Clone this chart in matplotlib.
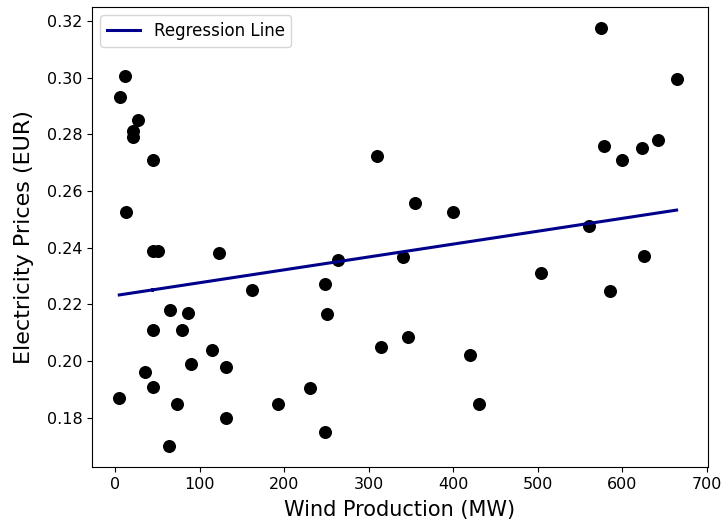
import matplotlib.pyplot as plt
import numpy as np

wind_mw = [4.7, 5.9, 11.8, 13, 21, 21, 27, 35, 45, 44, 45, 44, 50, 64, 65, 73, 79, 86, 90,
           114, 123, 131, 131, 162, 193, 230, 248, 248, 251, 264, 310, 314, 340, 346, 355,
           400, 420, 430, 504, 560, 574, 578, 585, 600, 623, 625, 642, 664]
price_eur = [0.187, 0.293, 0.3007, 0.2525, 0.281, 0.279, 0.285, 0.196, 0.271, 0.2387, 0.211,
             0.191, 0.2387, 0.170, 0.218, 0.185, 0.211, 0.217, 0.199, 0.204, 0.238, 0.198,
             0.180, 0.225, 0.185, 0.1905, 0.227, 0.175, 0.2165, 0.2356, 0.2725, 0.205, 0.2366,
             0.2085, 0.2556, 0.2526, 0.202, 0.185, 0.231, 0.2476, 0.3175, 0.276, 0.2247,
             0.271, 0.275, 0.237, 0.278, 0.2996]

# fitted line (the source fit used the full dataset)
fit_intercept = 0.2231
fit_slope = 0.0000454

x = np.array(wind_mw)
y = np.array(price_eur)

fig = plt.figure(figsize=(7.21, 5.21), dpi=100)
ax = fig.add_axes([0.1276, 0.1036, 0.8544, 0.883])
ax.scatter(x, y, color='black', s=70)
ax.plot(x, fit_slope * x + fit_intercept, color='darkblue', linewidth=2.2, label='Regression Line')
ax.set_xlim(-27.6, 701.2)
ax.set_ylim(0.1626, 0.3249)
ax.set_xlabel('Wind Production (MW)', fontsize=15, labelpad=6)
ax.set_ylabel('Electricity Prices (EUR)', fontsize=16, labelpad=9)
ax.tick_params(labelsize=11.5)
ax.legend(loc='upper left', fontsize=12)
fig.savefig('out.png')
